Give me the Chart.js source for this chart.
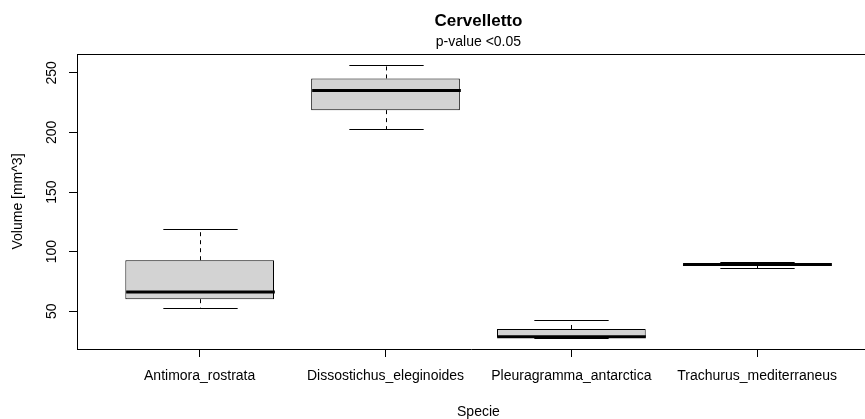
<!DOCTYPE html>
<html>
<head>
<meta charset="utf-8">
<script src="https://cdn.jsdelivr.net/npm/chart.js@4/dist/chart.umd.min.js"></script>
<style>
  html, body { margin: 0; padding: 0; background: #fff; }
  canvas { display: block; }
</style>
</head>
<body>
<canvas id="c" width="865" height="419"></canvas>
<script>
// Cerebellum volume by species: five-number summaries for each box
const species = ['Antimora_rostrata', 'Dissostichus_eleginoides', 'Pleuragramma_antarctica', 'Trachurus_mediterraneus'];
const whiskerLow  = [53.1, 202.7, 27.5, 86.0];
const quartile1   = [60.1, 218.7, 28.0, 88.0];
const medians     = [66.2, 235.2, 28.6, 89.2];
const quartile3   = [92.8, 245.3, 35.1, 90.3];
const whiskerHigh = [118.8, 256.6, 42.4, 91.0];
const yTicks = [50, 100, 150, 200, 250];

const chartTitle = 'Cervelletto';
const chartSubtitle = 'p-value <0.05';
const xTitle = 'Specie';
const yTitle = 'Volume [mm^3]';

const FONT = "'Liberation Sans', Arial, sans-serif";
const BOX_HALF = 0.4;   // half box width, in category units
const CAP_HALF = 0.2;   // half whisker-cap width

// whiskers, caps, medians, frame top and the text around the plot
const boxExtras = {
  id: 'boxExtras',
  afterDatasetsDraw(chart) {
    const ctx = chart.ctx;
    const xs = chart.scales.x, ys = chart.scales.y;
    ctx.save();
    ctx.strokeStyle = '#000';
    species.forEach((name, i) => {
      const cx = Math.round(xs.getPixelForValue(i + 1)) + 0.5;
      const hb = xs.getPixelForValue(i + 1 + BOX_HALF) - xs.getPixelForValue(i + 1);
      const hc = xs.getPixelForValue(i + 1 + CAP_HALF) - xs.getPixelForValue(i + 1);
      const yLo = ys.getPixelForValue(whiskerLow[i]);
      const yQ1 = ys.getPixelForValue(quartile1[i]);
      const yMed = ys.getPixelForValue(medians[i]);
      const yQ3 = ys.getPixelForValue(quartile3[i]);
      const yHi = ys.getPixelForValue(whiskerHigh[i]);

      // dashed whiskers
      ctx.lineWidth = 1;
      ctx.setLineDash([4, 4]);
      ctx.beginPath();
      ctx.moveTo(cx, yQ3); ctx.lineTo(cx, yHi);
      ctx.moveTo(cx, yQ1); ctx.lineTo(cx, yLo);
      ctx.stroke();

      // caps
      ctx.setLineDash([]);
      ctx.beginPath();
      const yh = Math.round(yHi) + 0.5, yl = Math.round(yLo) + 0.5;
      ctx.moveTo(cx - hc, yh); ctx.lineTo(cx + hc, yh);
      ctx.moveTo(cx - hc, yl); ctx.lineTo(cx + hc, yl);
      ctx.stroke();

      // median
      ctx.lineWidth = 3;
      ctx.lineCap = 'butt';
      ctx.beginPath();
      ctx.moveTo(cx - hb, yMed); ctx.lineTo(cx + hb, yMed);
      ctx.stroke();
    });
    ctx.restore();
  },
  afterDraw(chart) {
    const ctx = chart.ctx;
    const xs = chart.scales.x, ys = chart.scales.y;
    const area = chart.chartArea;
    ctx.save();
    // top edge of the frame
    ctx.strokeStyle = '#000';
    ctx.lineWidth = 1;
    ctx.beginPath();
    ctx.moveTo(area.left, Math.round(area.top) + 0.5);
    ctx.lineTo(area.right, Math.round(area.top) + 0.5);
    ctx.stroke();

    const midX = xs.getPixelForValue((xs.min + 4.66) / 2);
    const midY = (area.top + area.bottom) / 2;
    ctx.fillStyle = '#000';
    ctx.textAlign = 'center';
    ctx.textBaseline = 'alphabetic';

    ctx.font = 'bold 17px ' + FONT;
    ctx.fillText(chartTitle, midX, 26);
    ctx.font = '14px ' + FONT;
    ctx.fillText(chartSubtitle, midX, 46);
    ctx.fillText(xTitle, midX, 416);

    // y tick labels, reading upwards
    yTicks.forEach(v => {
      const y = ys.getPixelForValue(v);
      ctx.save();
      ctx.translate(56, y);
      ctx.rotate(-Math.PI / 2);
      ctx.fillText(String(v), 0, 0);
      ctx.restore();
    });
    ctx.save();
    ctx.translate(22, midY);
    ctx.rotate(-Math.PI / 2);
    ctx.fillText(yTitle, 0, 0);
    ctx.restore();
    ctx.restore();
  }
};

new Chart(document.getElementById('c'), {
  type: 'bar',
  data: {
    datasets: [{
      data: species.map((s, i) => ({ x: i + 1, y: [quartile1[i], quartile3[i]] })),
      backgroundColor: '#d3d3d3',
      borderColor: '#000',
      borderWidth: 1,
      borderSkipped: false,
      barPercentage: 0.8,
      categoryPercentage: 1.0
    }]
  },
  options: {
    responsive: false,
    animation: false,
    devicePixelRatio: 1,
    layout: { padding: { left: 0, top: 54, right: 0, bottom: 0 } },
    plugins: {
      legend: { display: false },
      tooltip: { enabled: false },
      title: { display: false }
    },
    scales: {
      x: {
        type: 'linear',
        offset: false,
        min: 0.34,
        max: 4.58,
        afterBuildTicks: axis => { axis.ticks = species.map((s, i) => ({ value: i + 1 })); },
        afterFit: axis => { axis.height = 70; },
        grid: { offset: false, drawOnChartArea: false, drawTicks: true, tickLength: 8, tickColor: '#000' },
        border: { display: true, color: '#000', width: 1 },
        ticks: {
          autoSkip: false,
          maxRotation: 0,
          minRotation: 0,
          padding: 11,
          color: '#000',
          font: { family: FONT, size: 14 },
          callback: v => species[Math.round(v) - 1]
        }
      },
      y: {
        type: 'linear',
        min: 18.3,
        max: 265.8,
        afterBuildTicks: axis => { axis.ticks = yTicks.map(v => ({ value: v })); },
        afterFit: axis => { axis.width = 77; },
        grid: { drawOnChartArea: false, drawTicks: true, tickLength: 8, tickColor: '#000' },
        border: { display: true, color: '#000', width: 1 },
        ticks: { display: false }
      }
    }
  },
  plugins: [boxExtras]
});
</script>
</body>
</html>
